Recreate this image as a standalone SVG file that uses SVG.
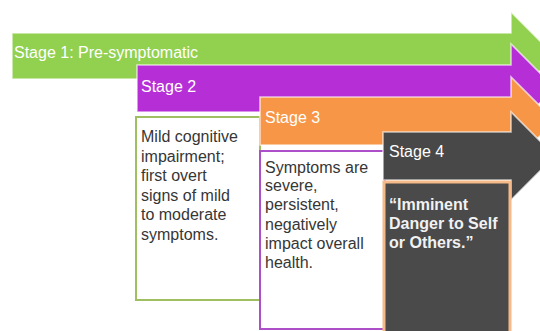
<svg xmlns="http://www.w3.org/2000/svg" width="540" height="331" viewBox="0 0 540 331">
  <style>
    .arrow { stroke: #ffffff; stroke-opacity: 0.65; stroke-width: 1.6; stroke-linejoin: miter; }
    .head { font-family: "Liberation Sans", Arial, sans-serif; font-size: 16px; fill: #ffffff; }
    .body { font-family: "Liberation Sans", Arial, sans-serif; font-size: 16px; fill: #363636; }
    .bold { font-family: "Liberation Sans", Arial, sans-serif; font-size: 16px; font-weight: bold; fill: #f2f2f2; }
  </style>
  <rect x="0" y="0" width="540" height="331" fill="#ffffff"/>
  <g id="connectors"></g>
  <g id="stage1">
    <polygon class="arrow" fill="#92d050" points="12,33 511,33 511,12 555,56 511,100 511,79 12,79"/>
    <text class="head" x="14" y="58">Stage 1: Pre-symptomatic</text>
  </g>
  <g id="stage2">
    <polygon class="arrow" fill="#b62fd6" points="137,65 511,65 511,44 555,88 511,132 511,112 137,112"/>
    <text class="head" x="141" y="92">Stage 2</text>
    <rect x="136" y="117" width="124" height="183" fill="#ffffff" stroke="#9fbf60" stroke-width="2"/>
    <text class="body" x="141" y="142">Mild cognitive</text>
    <text class="body" x="141" y="162">impairment;</text>
    <text class="body" x="141" y="181">first overt</text>
    <text class="body" x="141" y="201">signs of mild</text>
    <text class="body" x="141" y="220">to moderate</text>
    <text class="body" x="141" y="240">symptoms.</text>
  </g>
  <g id="stage3">
    <polygon class="arrow" fill="#f79646" points="260,97 511,97 511,77 555,121 511,165 511,145 260,145"/>
    <text class="head" x="265" y="123">Stage 3</text>
    <rect x="260" y="151" width="125" height="178" fill="#ffffff" stroke="#ad4fc8" stroke-width="2"/>
    <text class="body" x="265" y="173">Symptoms are</text>
    <text class="body" x="265" y="191">severe,</text>
    <text class="body" x="265" y="210">persistent,</text>
    <text class="body" x="265" y="230">negatively</text>
    <text class="body" x="265" y="249">impact overall</text>
    <text class="body" x="265" y="268">health.</text>
  </g>
  <g id="stage4">
    <polygon class="arrow" fill="#484848" points="383,132 511,132 511,112 555,156 511,200 511,180 383,180"/>
    <text class="head" x="389" y="157">Stage 4</text>
    <rect x="384" y="182" width="126" height="160" fill="#4a4a4a" stroke="#f6b988" stroke-width="3"/>
    <text class="bold" x="389" y="210">“Imminent</text>
    <text class="bold" x="389" y="229">Danger to Self</text>
    <text class="bold" x="389" y="248">or Others.”</text>
  </g>
</svg>
